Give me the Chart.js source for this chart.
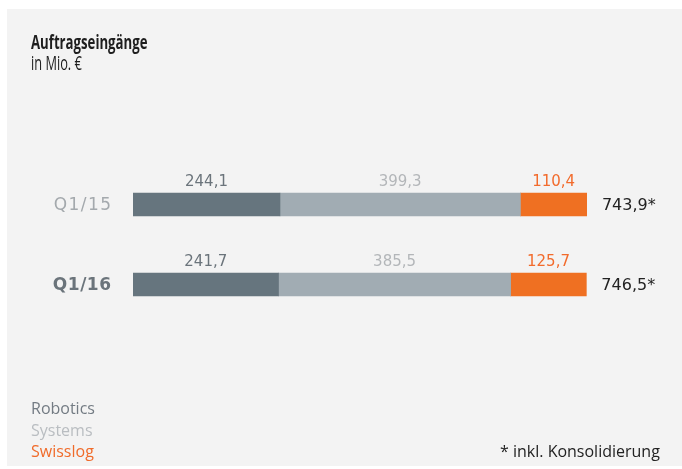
<!DOCTYPE html>
<html>
<head>
<meta charset="utf-8">
<script src="https://cdn.jsdelivr.net/npm/chart.js@4"></script>
<style>
  html, body { margin: 0; padding: 0; background: #fff; }
  #panel { position: absolute; left: 7px; top: 9px; width: 675px; height: 457px; background: #f3f3f3; }
  #panel canvas { position: absolute; left: 0; top: 0; }
  .txt { position: absolute; font-family: 'Open Sans', sans-serif; white-space: nowrap; transform-origin: 0 0; }
  #title { left: 24px; top: 19px; font-size: 20px; font-weight: bold; color: #1e1e1e; transform: scaleX(0.66); }
  #subtitle { left: 24px; top: 40px; font-size: 20px; color: #1e1e1e; transform: scaleX(0.64); }
  .legend { left: 24px; font-size: 16px; }
  #note { left: 493px; top: 431px; font-size: 16px; color: #222; }
</style>
</head>
<body>
<div id="panel">
  <canvas id="chart" width="675" height="457"></canvas>
  <div class="txt" id="title">Auftragseingänge</div>
  <div class="txt" id="subtitle">in Mio. €</div>
  <div class="txt legend" style="top:388px;color:#737b83">Robotics</div>
  <div class="txt legend" style="top:410px;color:#b9bdc1">Systems</div>
  <div class="txt legend" style="top:431px;color:#f06b2a">Swisslog</div>
  <div class="txt" id="note">* inkl. Konsolidierung</div>
</div>
<script>
const categories = ['Q1/15', 'Q1/16'];
const robotics = [244.1, 241.7];
const systems = [399.3, 385.5];
const swisslog = [110.4, 125.7];
const totals = ['743,9*', '746,5*'];

const barColors = ['#66757e', '#a1acb3', '#ef7022'];
const labelColors = ['#6b747b', '#b3b6b9', '#f26b2c'];

const fmt = v => v.toFixed(1).replace('.', ',');

const labelPlugin = {
  id: 'labels',
  afterDatasetsDraw(chart) {
    const ctx = chart.ctx;
    const x = chart.scales.x;
    ctx.save();
    ctx.textBaseline = 'alphabetic';
    chart.data.datasets.forEach((ds, di) => {
      const meta = chart.getDatasetMeta(di);
      meta.data.forEach((bar, i) => {
        const left = Math.min(bar.x, bar.base);
        const right = Math.max(bar.x, bar.base);
        const top = bar.y - bar.height / 2;
        ctx.font = "15px 'DejaVu Sans', sans-serif";
        ctx.fillStyle = labelColors[di];
        ctx.textAlign = 'center';
        ctx.fillText(fmt(ds.data[i]), (left + right) / 2, top - 7);
      });
    });
    const metaLast = chart.getDatasetMeta(chart.data.datasets.length - 1);
    metaLast.data.forEach((bar, i) => {
      ctx.font = "16px 'DejaVu Sans', sans-serif";
      ctx.fillStyle = '#222';
      ctx.textAlign = 'left';
      ctx.textBaseline = 'middle';
      ctx.letterSpacing = '0px';
      ctx.fillText(totals[i], bar.x + 15, bar.y + 1);
      ctx.textAlign = 'right';
      let sp = 0;
      if (i === 0) {
        ctx.font = "17px 'DejaVu Sans', sans-serif";
        ctx.fillStyle = '#a4a9ad';
        sp = 1.4;
      } else {
        ctx.font = "bold 17px 'DejaVu Sans', sans-serif";
        ctx.fillStyle = '#6b747b';
        sp = 0.5;
      }
      ctx.letterSpacing = sp + 'px';
      ctx.fillText(categories[i], x.left - 22 + sp, bar.y + 1);
    });
    ctx.restore();
  }
};

const ctx = document.getElementById('chart').getContext('2d');
new Chart(ctx, {
  type: 'bar',
  data: {
    labels: categories,
    datasets: [
      { label: 'Robotics', data: robotics, backgroundColor: barColors[0] },
      { label: 'Systems', data: systems, backgroundColor: barColors[1] },
      { label: 'Swisslog', data: swisslog, backgroundColor: barColors[2] },
    ],
  },
  options: {
    indexAxis: 'y',
    responsive: false,
    animation: false,
    layout: { padding: { left: 126, right: 95, top: 155.5, bottom: 141.5 } },
    datasets: { bar: { barThickness: 23, borderWidth: 0 } },
    plugins: { legend: { display: false }, tooltip: { enabled: false } },
    scales: {
      x: { stacked: true, display: false, min: 0, max: 754 },
      y: { stacked: true, display: false },
    },
  },
  plugins: [labelPlugin],
});
</script>
</body>
</html>
